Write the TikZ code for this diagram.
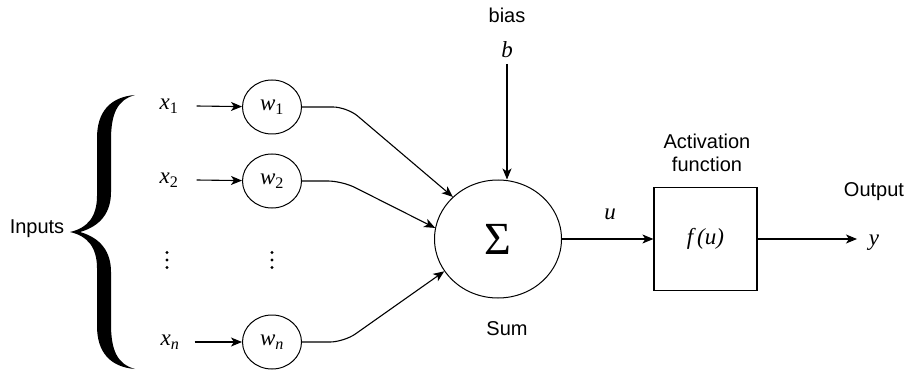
\documentclass[tikz,border=0pt]{standalone}
\usepackage{fontspec}
\setmainfont{Liberation Sans}
\newfontfamily\serif{Liberation Serif}
\usetikzlibrary{shapes.geometric,arrows.meta}
\begin{document}
\begin{tikzpicture}[x=1pt,y=-1pt,
  lbl/.style={font=\fontsize{20}{23}\selectfont, inner sep=0pt, align=center},
  mth/.style={font=\fontsize{23}{25}\selectfont\serif\itshape, inner sep=0pt},
  wnode/.style={draw, ellipse, minimum width=59pt, minimum height=54pt, inner sep=0pt, line width=1pt, font=\fontsize{23}{25}\selectfont\serif\itshape},
  dotsnode/.style={minimum width=4pt, minimum height=20pt, inner sep=0pt},
  arr/.style={-{Stealth[length=11pt,width=9pt,inset=3pt]}, line width=1.1pt},
  link/.style={arr, rounded corners=14pt},
]
\useasboundingbox (0,0) rectangle (909,374);

% brace
\fill (135,95) .. controls (110,97) and (97,112) .. (97,138) -- (97,196)
  .. controls (97,216) and (88,228) .. (70,232)
  .. controls (88,236) and (97,248) .. (97,268) -- (97,326)
  .. controls (97,352) and (110,367) .. (135,369)
  .. controls (117,364) and (111,350) .. (111,324) -- (111,272)
  .. controls (111,252) and (101,238) .. (80,232)
  .. controls (101,226) and (111,212) .. (111,192) -- (111,140)
  .. controls (111,114) and (117,100) .. (135,95) -- cycle;
\node[lbl] (inputs) at (37,229) {Inputs};

% inputs
\node[mth] (x1) at (169,106) {x\textsubscript{\upshape 1}};
\node[mth] (x2) at (169,180) {x\textsubscript{\upshape 2}};
\node[dotsnode] (xd) at (167,260) {};
\node[mth] (xn) at (170,342) {x\textsubscript{n}};

% weights
\node[wnode] (w1) at (272,107) {w\textsubscript{\upshape 1}};
\node[wnode] (w2) at (272,181) {w\textsubscript{\upshape 2}};
\node[dotsnode] (wd) at (272,260) {};
\node[wnode] (wn) at (272,342) {w\textsubscript{n}};
\foreach \d in {xd,wd}{
  \fill (\d) circle (1.7);
  \fill (\d) ++(0,-7.5) circle (1.7);
  \fill (\d) ++(0,7.5) circle (1.7);
}

\draw[arr] ([xshift=18pt]x1.east) -- (w1);
\draw[arr] ([xshift=18pt]x2.east) -- (w2);
\draw[arr] ([xshift=15pt]xn.east) -- (wn);

% sum
\node[draw, ellipse, minimum width=127pt, minimum height=118pt, inner sep=0pt, line width=1pt,
      font=\fontsize{46}{46}\selectfont\serif] (sum) at (498,239) {Σ};
\node[lbl] (sumlbl) at (507,329) {Sum};
\node[lbl] (bias) at (507,15) {bias};
\node[mth] (b) at (507,50) {b};
\coordinate (btop) at (507,64);
\draw[arr] (btop) -- (btop |- sum.north);

\draw[link] (w1) -- ++(75,0) -- (sum.137);
\draw[link] (w2) -- ++(70,0) -- (sum.170);
\draw[link] (wn) -- ++(72,0) -- (sum.211);

% activation
\node[draw, minimum width=103pt, minimum height=103pt, inner sep=0pt, line width=1.2pt,
      font=\fontsize{23}{25}\selectfont\serif\itshape] (act) at (705.5,239) {f\,(u)};
\node[lbl] (actlbl) at (707,153) {Activation\\function};
\node[mth] (u) at (610,214) {u};
\draw[arr] (sum) -- (act);

% output
\node[mth] (y) at (874,243) {y};
\node[lbl] (outlbl) at (874,192) {Output};
\coordinate (yend) at (857,239);
\draw[arr] (act.east) -- (yend);
\end{tikzpicture}
\end{document}
